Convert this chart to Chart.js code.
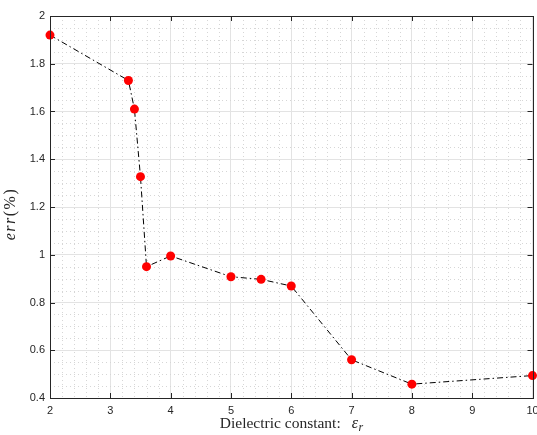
<!DOCTYPE html>
<html>
<head>
<meta charset="utf-8">
<script src="https://cdn.jsdelivr.net/npm/chart.js@4"></script>
<style>
  body { margin: 0; background: #fff; }
  canvas { display: block; }
</style>
</head>
<body>
<canvas id="err-chart" width="537" height="435"></canvas>
<script>
// values
const permittivity = [2, 3.3, 3.4, 3.5, 3.6, 4, 5, 5.5, 6, 7, 8, 10];
const errPercent = [1.92, 1.73, 1.61, 1.327, 0.95, 0.995, 0.908, 0.897, 0.869, 0.56, 0.458, 0.494];
const xTicks = [2, 3, 4, 5, 6, 7, 8, 9, 10];
const yTicks = [0.4, 0.6, 0.8, 1, 1.2, 1.4, 1.6, 1.8, 2];

const tickFont = { family: "'Liberation Sans', Arial, sans-serif", size: 11 };
const axisColor = '#262626';

// minor dotted grid, inward ticks and the box around the axes (matlab look)
const matlabAxes = {
    id: 'matlabAxes',
    beforeDatasetsDraw(chart) {
        const { ctx, chartArea: a, scales } = chart;
        ctx.save();
        ctx.strokeStyle = '#d6d6d6';
        ctx.lineWidth = 1;
        ctx.setLineDash([1, 3]);
        for (let v = 2; v < 10; v += 0.2) {
            if (Math.abs(v - Math.round(v)) < 1e-6) continue;
            const x = Math.round(scales.x.getPixelForValue(v)) + 0.5;
            ctx.beginPath(); ctx.moveTo(x, a.top); ctx.lineTo(x, a.bottom); ctx.stroke();
        }
        for (let v = 0.4; v < 2; v += 0.05) {
            if (Math.abs(v * 5 - Math.round(v * 5)) < 1e-6) continue;
            const y = Math.round(scales.y.getPixelForValue(v)) + 0.5;
            ctx.beginPath(); ctx.moveTo(a.left, y); ctx.lineTo(a.right, y); ctx.stroke();
        }
        ctx.restore();
    },
    afterDatasetsDraw(chart) {
        const { ctx, chartArea: a, scales } = chart;
        ctx.save();
        ctx.strokeStyle = axisColor;
        ctx.lineWidth = 1;
        const len = 5;
        xTicks.forEach(v => {
            const x = Math.round(scales.x.getPixelForValue(v)) + 0.5;
            ctx.beginPath();
            ctx.moveTo(x, a.bottom); ctx.lineTo(x, a.bottom - len);
            ctx.moveTo(x, a.top); ctx.lineTo(x, a.top + len);
            ctx.stroke();
        });
        yTicks.forEach(v => {
            const y = Math.round(scales.y.getPixelForValue(v)) + 0.5;
            ctx.beginPath();
            ctx.moveTo(a.left, y); ctx.lineTo(a.left + len, y);
            ctx.moveTo(a.right, y); ctx.lineTo(a.right - len, y);
            ctx.stroke();
        });
        ctx.strokeRect(Math.round(a.left) + 0.5, Math.round(a.top) + 0.5,
            Math.round(a.right - a.left), Math.round(a.bottom - a.top));
        ctx.restore();
    },
    afterDraw(chart) {
        const { ctx, chartArea: a } = chart;
        ctx.save();
        ctx.fillStyle = axisColor;
        ctx.textBaseline = 'alphabetic';
        // x title: "Dielectric constant: eps_r"
        const roman = "15.5px 'Liberation Serif', 'Times New Roman', serif";
        const ital = "italic 16px 'Liberation Serif', 'Times New Roman', serif";
        const sub = "italic 12px 'Liberation Serif', 'Times New Roman', serif";
        const t1 = 'Dielectric constant:';
        const gap = 11;
        ctx.font = roman; const w1 = ctx.measureText(t1).width;
        ctx.font = ital; const w2 = ctx.measureText('\u03b5').width;
        ctx.font = sub; const w3 = ctx.measureText('r').width;
        let x = (a.left + a.right) / 2 - (w1 + gap + w2 + w3) / 2;
        const yb = 428;
        ctx.font = roman; ctx.fillText(t1, x, yb); x += w1 + gap;
        ctx.font = ital; ctx.fillText('\u03b5', x, yb); x += w2 + 0.5;
        ctx.font = sub; ctx.fillText('r', x, yb + 3);
        // y title: "err(%)"
        ctx.translate(15, 214);
        ctx.rotate(-Math.PI / 2);
        ctx.letterSpacing = '1.5px';
        const yfont = "16px 'Liberation Serif', 'Times New Roman', serif";
        const yital = "italic 16px 'Liberation Serif', 'Times New Roman', serif";
        ctx.font = yital; const e1 = ctx.measureText('err').width;
        ctx.font = yfont; const e2 = ctx.measureText('(%)').width;
        let yx = -(e1 + e2) / 2;
        ctx.font = yital; ctx.fillText('err', yx, 0); yx += e1;
        ctx.font = yfont; ctx.fillText('(%)', yx, 0);
        ctx.restore();
    }
};

new Chart(document.getElementById('err-chart'), {
    type: 'line',
    data: {
        datasets: [{
            data: permittivity.map((v, i) => ({ x: v, y: errPercent[i] })),
            borderColor: '#000',
            borderWidth: 1,
            borderDash: [6, 3, 1.5, 3],
            pointRadius: 4.5,
            pointBackgroundColor: '#ff0000',
            pointBorderColor: '#ff0000',
            pointBorderWidth: 0,
            tension: 0,
            clip: false
        }]
    },
    options: {
        responsive: false,
        animation: false,
        layout: { padding: { top: 16, right: 4, left: 0, bottom: 0 } },
        plugins: { legend: { display: false }, tooltip: { enabled: false } },
        scales: {
            x: {
                type: 'linear', min: 2, max: 10,
                afterBuildTicks: s => { s.ticks = xTicks.map(v => ({ value: v })); },
                afterFit: s => { s.height = 37; s.paddingLeft = 0; s.paddingRight = 0; },
                ticks: { font: tickFont, color: axisColor, padding: 6, maxRotation: 0 },
                grid: { color: '#e3e3e3', drawTicks: false },
                border: { display: false }
            },
            y: {
                min: 0.4, max: 2,
                afterBuildTicks: s => { s.ticks = yTicks.map(v => ({ value: v })); },
                afterFit: s => { s.width = 50; s.paddingTop = 0; s.paddingBottom = 0; },
                ticks: {
                    font: tickFont, color: axisColor, padding: 5,
                    callback: v => String(Math.round(v * 10) / 10)
                },
                grid: { color: '#e3e3e3', drawTicks: false },
                border: { display: false }
            }
        }
    },
    plugins: [matlabAxes]
});
</script>
</body>
</html>
